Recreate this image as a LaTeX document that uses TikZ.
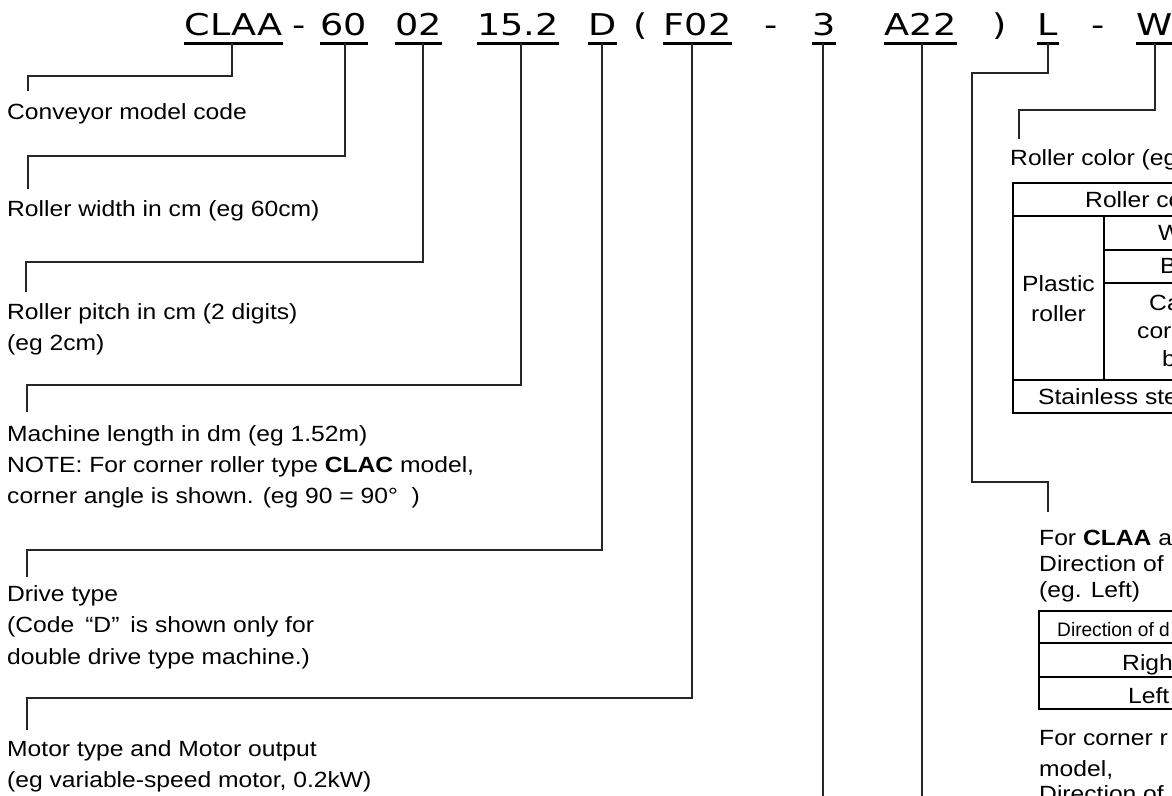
\documentclass[tikz,border=0pt]{standalone}
\usepackage{fontspec}
\setmainfont[FakeStretch=1.12]{Liberation Sans}
\newfontfamily\titlefont[FakeStretch=1.22]{DejaVu Sans}
\newfontfamily\condfont[FakeStretch=0.98]{Liberation Sans}
\begin{document}
\begin{tikzpicture}[x=1pt,y=-1pt,
  txt/.style={anchor=base west,inner sep=0pt,font=\fontsize{22}{26}\selectfont},
  ctxt/.style={anchor=base,inner sep=0pt,font=\fontsize{22}{26}\selectfont},
  smalltxt/.style={anchor=base west,inner sep=0pt,font=\condfont\fontsize{19.5}{22}\selectfont},
  ttl/.style={anchor=base,inner sep=0pt,font=\titlefont\fontsize{30}{32}\selectfont},
  conn/.style={line width=1.1pt,draw=black!85},
  ul/.style={line width=3pt,draw=black},
  tab/.style={line width=2pt,draw=black},
]
\useasboundingbox (0,0) rectangle (1172,795);
\fill[white] (0,0) rectangle (1172,795);
\begin{scope}
\clip (0,0) rectangle (1172,795);

% title pieces
\node[ttl,minimum width=98pt] (tA) at (233.5,35) {CLAA};
\node[ttl] (d1) at (299,35) {-};
\node[ttl,minimum width=48pt] (tB) at (344,35) {60};
\node[ttl,minimum width=39pt] (tC) at (418.5,35) {02};
\node[ttl,minimum width=78pt] (tD) at (518,35) {15.2};
\node[ttl,minimum width=27pt] (tE) at (602.5,35) {D};
\node[ttl] (lp) at (641,35) {(};
\node[ttl,minimum width=69pt] (tF) at (697.5,35) {F02};
\node[ttl] (d2) at (771.5,35) {-};
\node[ttl,minimum width=24pt] (tG) at (824,35) {3};
\node[ttl,minimum width=73pt] (tH) at (920.5,35) {A22};
\node[ttl] (rp) at (1000,35) {)};
\node[ttl,minimum width=22pt] (tI) at (1048,35) {L};
\node[ttl] (d3) at (1098,35) {-};
\node[ttl,minimum width=33pt] (tJ) at (1154.5,35) {W};

\foreach \n in {tA,tB,tC,tD,tE,tF,tG,tH,tI,tJ}{
  \draw[ul] ([yshift=-8pt]\n.base west) -- ([yshift=-8pt]\n.base east);
}

% tick coordinates on the underlines
\coordinate (k1) at (232,43);
\coordinate (k2) at (345,43);
\coordinate (k3) at (423,43);
\coordinate (k4) at (521,43);
\coordinate (k5) at (602,43);
\coordinate (k6) at (692,43);
\coordinate (k7) at (823,43);
\coordinate (k8) at (922,43);
\coordinate (k9) at (1048,43);
\coordinate (k10) at (1155,43);

% bend and end points
\coordinate (b1) at (28,76);   \coordinate (e1) at (28,91);
\coordinate (b2) at (28,156);  \coordinate (e2) at (28,189);
\coordinate (b3) at (26,262);  \coordinate (e3) at (26,292);
\coordinate (b4) at (27,385);  \coordinate (e4) at (27,412);
\coordinate (b5) at (27,550);  \coordinate (e5) at (27,577);
\coordinate (b6) at (27,698);  \coordinate (e6) at (27,730);
\coordinate (e7) at (823,800);
\coordinate (e8) at (922,800);
\coordinate (b9) at (972,73);  \coordinate (c9) at (972,482); \coordinate (e9) at (1048,512);
\coordinate (b10) at (1019,110); \coordinate (e10) at (1019,139);

\draw[conn] (k1) |- (b1) -- (e1);
\draw[conn] (k2) |- (b2) -- (e2);
\draw[conn] (k3) |- (b3) -- (e3);
\draw[conn] (k4) |- (b4) -- (e4);
\draw[conn] (k5) |- (b5) -- (e5);
\draw[conn] (k6) |- (b6) -- (e6);
\draw[conn] (k7) -- (e7);
\draw[conn] (k8) -- (e8);
\draw[conn] (k9) |- (b9) -- (c9) -| (e9);
\draw[conn] (k10) |- (b10) -- (e10);

% left descriptions
\node[txt] (n1) at (7,119) {Conveyor model code};
\node[txt] (n2) at (7,216) {Roller width in cm (eg 60cm)};
\node[txt] (n3a) at (7,319) {Roller pitch in cm (2 digits)};
\node[txt] (n3b) at (7,350) {(eg 2cm)};
\node[txt] (n4a) at (7,441) {Machine length in dm (eg 1.52m)};
\node[txt] (n4b) at (7,472) {NOTE: For corner roller type \textbf{CLAC} model,};
\node[txt] (n4c) at (7,503) {corner angle is shown. (eg 90 = 90°\ \ )};
\node[txt] (n5a) at (7,601) {Drive type};
\node[txt] (n5b) at (7,632) {(Code\enspace“D”\enspace is shown only for};
\node[txt] (n5c) at (7,664) {double drive type machine.)};
\node[txt] (n6a) at (7,756) {Motor type and Motor output};
\node[txt] (n6b) at (7,787) {(eg variable-speed motor, 0.2kW)};

% roller colour table
\node[txt] (r1) at (1010,165) {Roller color (eg};
\draw[tab] (1200,183) -- (1013,183) -- (1013,413) -- (1200,413);
\draw[tab] (1013,216) -- (1200,216);
\draw[tab] (1104,216) -- (1104,380);
\draw[tab] (1104,250) -- (1200,250);
\draw[tab] (1104,283) -- (1200,283);
\draw[tab] (1013,380) -- (1200,380);
\node[txt] (h1) at (1085,207) {Roller co};
\node[txt] (cw) at (1158,240) {W};
\node[txt] (cb) at (1160,273) {B};
\node[ctxt] (p1) at (1058.5,291) {Plastic};
\node[ctxt] (p2) at (1058.5,321) {roller};
\node[txt] (ca1) at (1149,310) {Ca};
\node[txt] (ca2) at (1137,338) {cor};
\node[txt] (ca3) at (1162,366) {b};
\node[txt] (ss) at (1038,404) {Stainless ste};

% direction block
\node[txt] (f1) at (1039,545) {For \textbf{CLAA} ar};
\node[txt] (f2) at (1039,571) {Direction of};
\node[txt] (f3) at (1039,597) {(eg. Left)};
\draw[tab] (1200,611) -- (1039,611) -- (1039,709) -- (1200,709);
\draw[tab] (1039,643) -- (1200,643);
\draw[tab] (1039,677) -- (1200,677);
\node[smalltxt] (h2) at (1057,636) {Direction of d};
\node[txt] (rt) at (1122,670) {Right};
\node[txt] (lf) at (1128,703) {Left};
\node[txt] (g1) at (1039,745) {For corner r};
\node[txt] (g2) at (1039,776) {model,};
\node[txt] (g3) at (1039,801) {Direction of};
\end{scope}
\end{tikzpicture}
\end{document}
